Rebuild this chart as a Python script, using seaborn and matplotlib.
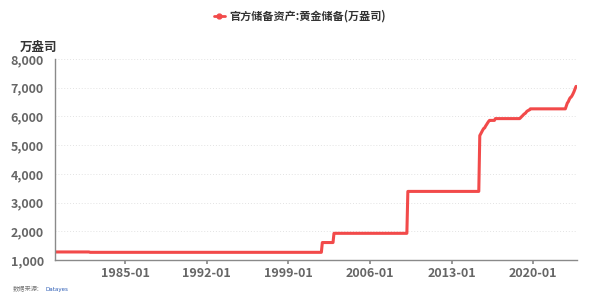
import matplotlib
matplotlib.use("Agg")
import matplotlib.pyplot as plt
from matplotlib.lines import Line2D
import seaborn as sns
import pandas as pd

dates = ["1979-01", "1981-12", "1982-01", "2001-11", "2001-12", "2002-11", "2002-12",
         "2009-03", "2009-04", "2015-05", "2015-06", "2015-07", "2015-08", "2015-09",
         "2015-10", "2015-11", "2015-12", "2016-01", "2016-02", "2016-03", "2016-04",
         "2016-09", "2016-10", "2018-11", "2018-12", "2019-01", "2019-02", "2019-03",
         "2019-04", "2019-05", "2019-06", "2019-07", "2019-08", "2019-09", "2019-10",
         "2022-10", "2022-11", "2022-12", "2023-01", "2023-02", "2023-03", "2023-04",
         "2023-05", "2023-06", "2023-07", "2023-08", "2023-09"]
values = [1280, 1280, 1267, 1267, 1608, 1608, 1929,
          1929, 3389, 3389, 5332, 5393, 5459, 5525,
          5580, 5600, 5666, 5718, 5774, 5823, 5862,
          5862, 5924, 5924, 5956, 5994, 6026, 6062,
          6092, 6111, 6161, 6190, 6210, 6226, 6264,
          6264, 6367, 6464, 6512, 6592, 6650, 6676,
          6727, 6795, 6869, 6962, 7046]
series_name = "官方储备资产:黄金储备(万盎司)"
unit_label = "万盎司"
x_ticks = ["1985-01", "1992-01", "1999-01", "2006-01", "2013-01", "2020-01"]
y_ticks = [1000, 2000, 3000, 4000, 5000, 6000, 7000, 8000]
source_text = "数据来源:"

sns.set_theme(style="white")
plt.rcParams["font.family"] = ["Noto Sans CJK SC", "DejaVu Sans"]

df = pd.DataFrame({"date": pd.to_datetime(dates), "value": values})

fig = plt.figure(figsize=(6.0, 2.99), dpi=100)
ax = fig.add_axes([55 / 600, 1 - 260 / 299, (577 - 55) / 600, (260 - 59) / 299])

red = "#f24a4a"
sns.lineplot(data=df, x="date", y="value", ax=ax, color=red, linewidth=2.2)

ax.set_xlim(pd.Timestamp("1979-01-01"), pd.Timestamp("2023-10-01"))
ax.set_ylim(1000, 8000)
ax.set_yticks(y_ticks)
ax.set_yticklabels([f"{v:,}" for v in y_ticks])
ax.set_xticks(pd.to_datetime(x_ticks))
ax.set_xticklabels(x_ticks)
ax.set_xlabel("")
ax.set_ylabel("")

for t in ax.get_yticklabels() + ax.get_xticklabels():
    t.set_fontweight("bold")
    t.set_color("#666666")
    t.set_fontsize(9)

ax.yaxis.grid(True, color="#e3e3e3", linestyle=(0, (1, 2)), linewidth=0.7)
ax.xaxis.grid(False)
for s in ["top", "right"]:
    ax.spines[s].set_visible(False)
for s in ["left", "bottom"]:
    ax.spines[s].set_color("#8a8a8a")
    ax.spines[s].set_linewidth(1.0)
ax.tick_params(axis="x", bottom=True, length=3, color="#8a8a8a", pad=2)
ax.tick_params(axis="y", left=False, pad=2)

fig.text(20 / 600, 1 - 47 / 299, unit_label, fontsize=9, fontweight="bold",
         color="#333333", ha="left", va="center")

handle = Line2D([0], [0], color=red, linewidth=2, marker="o", markersize=3.5)
fig.legend([handle], [series_name], loc="center", bbox_to_anchor=(0.5, 1 - 16 / 299),
           frameon=False, prop={"size": 8, "weight": "bold"}, handlelength=1.0,
           handletextpad=0.4, labelcolor="#333333")

fig.text(13 / 600, 1 - 289 / 299, source_text, fontsize=4.5, color="#777777",
         ha="left", va="center")
fig.text(45 / 600, 1 - 289 / 299, "Datayes", fontsize=4.0, color="#2a5bb5",
         ha="left", va="center", family=["DejaVu Sans"])

fig.savefig("out.png", dpi=100)
